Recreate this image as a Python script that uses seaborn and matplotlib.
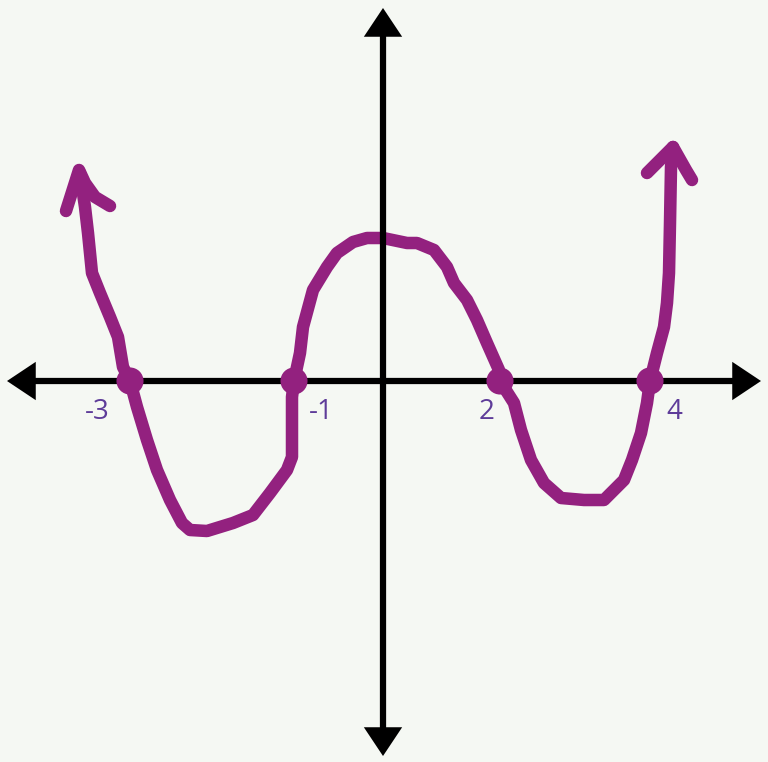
import matplotlib
matplotlib.use("Agg")

import matplotlib.pyplot as plt
import seaborn as sns
import pandas as pd

# ------------------------------------------------------------
# Data (sketch units: roughly pixels from the origin)
# ------------------------------------------------------------

curve_x = [-303, -298, -295, -291, -283, -273, -265, -260, -253, -246, -236,
           -226, -213, -201, -193, -176, -150, -130, -113, -96, -91, -91,
           -89, -83, -80, -70, -56, -46, -30, -16, 0, 24, 34, 51, 64, 71,
           84, 94, 104, 116, 117, 131, 138, 148, 161, 178, 201, 221, 231,
           241, 249, 258, 264, 267, 274, 281, 284, 286, 287, 288, 290]
curve_y = [208, 174, 148, 108, 88, 64, 44, 14, 0, -26, -59,
           -89, -119, -142, -149, -150, -142, -134, -112, -89, -76, -16,
           0, 28, 54, 91, 114, 128, 139, 143, 143, 138, 138, 131, 114, 98,
           81, 61, 38, 11, 0, -22, -49, -79, -102, -117, -119, -119, -109,
           -99, -79, -52, -22, 0, 28, 54, 78, 108, 158, 214, 234]

left_head_x = [-317, -304, -298, -288, -273]
left_head_y = [170, 211, 198, 184, 175]
right_head_x = [264, 290, 303, 309]
right_head_y = [208, 234, 211, 201]

zero_x = [-253, -89, 117, 267]
zero_y = [0, 0, 0, 0]
zero_labels = ["-3", "-1", "2", "4"]

# ------------------------------------------------------------
# Plot
# ------------------------------------------------------------

sns.set_theme(style="white")
bg = "#f5f8f3"
purple = "#93217f"
label_purple = "#5e3c99"

fig = plt.figure(figsize=(7.68, 7.62), dpi=100, facecolor=bg)
ax = fig.add_axes([0, 0, 1, 1], facecolor=bg)
ax.set_xlim(-383, 385)
ax.set_ylim(-381, 381)
ax.axis("off")

# axes with arrowheads
arrow_kw = dict(arrowstyle="<|-|>,head_length=0.9,head_width=0.6",
                color="black", lw=4.5, mutation_scale=16, shrinkA=0, shrinkB=0,
                joinstyle="miter", capstyle="butt")
ax.annotate("", xy=(378, 0), xytext=(-376, 0), arrowprops=arrow_kw)
ax.annotate("", xy=(0, 373), xytext=(0, -375), arrowprops=arrow_kw)

line_kw = dict(color=purple, linewidth=9, sort=False, estimator=None,
               legend=False, ax=ax)
sns.lineplot(x=curve_x, y=curve_y, **line_kw)
sns.lineplot(x=left_head_x, y=left_head_y, **line_kw)
sns.lineplot(x=right_head_x, y=right_head_y, **line_kw)
for ln in ax.lines:
    ln.set_solid_capstyle("round")
    ln.set_solid_joinstyle("round")

sns.scatterplot(x=zero_x, y=zero_y, color=purple, s=380, edgecolor="none",
                zorder=5, ax=ax)

label_dx = [-33, 27, -13, 24]
for zx, dx, txt in zip(zero_x, label_dx, zero_labels):
    ax.text(zx + dx, -31, txt, ha="center", va="center", fontsize=20,
            color=label_purple, family=["Open Sans", "DejaVu Sans"])

fig.savefig("out.png", dpi=100, facecolor=bg)
